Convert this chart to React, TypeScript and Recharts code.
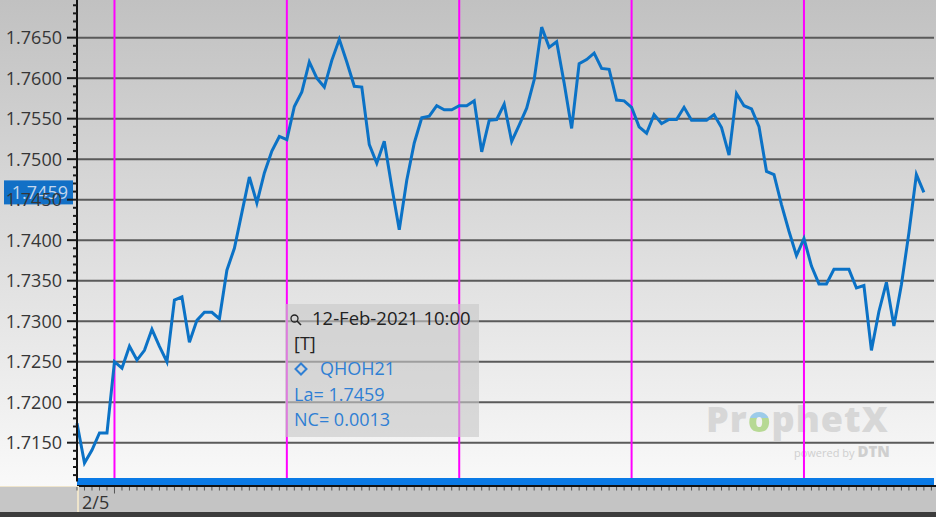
import React from "react"
import { LineChart, Line, XAxis, YAxis, ReferenceLine, Tooltip } from "recharts"

// QHOH21 intraday, one point per bar, 12-Feb-2021 10:00 is the last bar
const symbol = "QHOH21"
const lastTime = "12-Feb-2021 10:00"
const netChange = 0.0013
const firstDayLabel = "2/5"

const prices = [
  1.7174, 1.7125, 1.7141, 1.7162, 1.7162, 1.725, 1.7242, 1.7269, 1.7252, 1.7264,
  1.729, 1.7269, 1.725, 1.7326, 1.733, 1.7274, 1.7301, 1.7311, 1.7311, 1.7303,
  1.7363, 1.739, 1.7434, 1.7478, 1.7446, 1.7483, 1.751, 1.7528, 1.7524, 1.7565,
  1.7583, 1.762, 1.76, 1.7589, 1.7622, 1.7648, 1.762, 1.759, 1.7589, 1.7518,
  1.7495, 1.7522, 1.7466, 1.7413, 1.7474, 1.752, 1.7551, 1.7553, 1.7566, 1.7561,
  1.7561, 1.7566, 1.7566, 1.7572, 1.7509, 1.7548, 1.7549, 1.7568, 1.7522, 1.7542,
  1.7563, 1.7598, 1.7663, 1.7638, 1.7645, 1.7594, 1.7538, 1.7618, 1.7623, 1.7631,
  1.7612, 1.7611, 1.7573, 1.7572, 1.7564, 1.754, 1.7532, 1.7555, 1.7544, 1.7549,
  1.7549, 1.7564, 1.7548, 1.7548, 1.7548, 1.7555, 1.7539, 1.7505, 1.7581, 1.7566,
  1.7562, 1.754, 1.7485, 1.7481, 1.7444, 1.7411, 1.7381, 1.7402, 1.7368, 1.7346,
  1.7346, 1.7364, 1.7364, 1.7364, 1.7341, 1.7344, 1.7264, 1.7312, 1.7348, 1.7294,
  1.7345, 1.7409, 1.7481, 1.7459,
]

// labelled price levels (grid lines)
const priceLevels = [1.715, 1.72, 1.725, 1.73, 1.735, 1.74, 1.745, 1.75, 1.755, 1.76, 1.765]
// bar index where each new session starts
const sessionStarts = [5, 28, 51, 74, 97]

const lastPrice = prices[prices.length - 1]
const data = prices.map((price, t) => ({ t, price }))

const FONT = "'Open Sans', 'Noto Sans', sans-serif"
const BLUE_TEXT = "#2f7fd4"

// minor ticks every 0.001, labels only on the 0.005 levels
const yTicks = Array.from({ length: 59 }, (_, k) => (1711 + k) / 1000)
const xTicks = Array.from({ length: 115 }, (_, k) => k)

function PriceTick({ x, y, payload }: any) {
  const v: number = payload.value
  const major = priceLevels.some((p) => Math.abs(p - v) < 1e-7)
  return (
    <g>
      <line x1={x - (major ? 10 : 4)} x2={x} y1={y} y2={y} stroke="#1a1a1a" strokeWidth={2} />
      {major && (
        <text x={x - 15} y={y} dy="0.36em" textAnchor="end" fill="#363636" fontSize={18} fontFamily={FONT}>
          {v.toFixed(4)}
        </text>
      )}
    </g>
  )
}

function TimeTick({ x, y, payload }: any) {
  const i: number = payload.value
  const major = i === sessionStarts[0]
  return (
    <g>
      <line x1={x} x2={x} y1={y + 5.5} y2={y + (major ? 12 : 9)} stroke="#555" strokeWidth={1} />
      {i === 0 && (
        <text x={x + 5} y={y + 27} fill="#333" fontSize={18} fontFamily={FONT}>
          {firstDayLabel}
        </text>
      )}
    </g>
  )
}

function PriceTag({ viewBox }: any) {
  if (!viewBox) return null
  const { x, y } = viewBox
  return (
    <g>
      <rect x={x - 73} y={y - 12} width={69} height={24} fill="#1270c6" />
      <text x={x - 9} y={y} dy="0.36em" textAnchor="end" fill="#c3d6ec" fontSize={18} fontFamily={FONT}>
        {lastPrice.toFixed(4)}
      </text>
    </g>
  )
}

function InfoBox({ payload }: any) {
  const price: number = payload?.[0]?.value ?? lastPrice
  return (
    <div
      style={{
        width: 194,
        height: 133,
        background: "rgba(200,200,200,0.62)",
        fontFamily: FONT,
        fontSize: 18,
        lineHeight: "25.5px",
        padding: "1px 0 0 9px",
        boxSizing: "border-box",
        whiteSpace: "nowrap",
      }}
    >
      <div style={{ color: "#222", fontSize: 18.5 }}>
        <svg width={12} height={12} style={{ marginLeft: -4, marginRight: 10, verticalAlign: "-1px" }}>
          <circle cx={4.5} cy={4.5} r={3.5} fill="none" stroke="#222" strokeWidth={1.3} />
          <line x1={7} y1={7} x2={11} y2={11} stroke="#222" strokeWidth={1.6} />
        </svg>
        {lastTime}
      </div>
      <div style={{ color: "#222" }}>[T]</div>
      <div style={{ color: BLUE_TEXT }}>
        <svg width={14} height={14} style={{ marginRight: 12, verticalAlign: "-1px" }}>
          <path d="M7 1.5 L12.5 7 L7 12.5 L1.5 7 Z" fill="none" stroke={BLUE_TEXT} strokeWidth={2} />
        </svg>
        {symbol}
      </div>
      <div style={{ color: BLUE_TEXT }}>La= {price.toFixed(4)}</div>
      <div style={{ color: BLUE_TEXT }}>NC= {netChange.toFixed(4)}</div>
    </div>
  )
}

function Watermark() {
  return (
    <div style={{ position: "absolute", left: 706, top: 401, fontFamily: FONT }}>
      <div style={{ fontSize: 36, fontWeight: 800, lineHeight: 1, letterSpacing: 1, color: "#d7d7d7" }}>
        Pr
        <span
          style={{
            background: "linear-gradient(#9ccbe9 50%, #b7d994 50%)",
            WebkitBackgroundClip: "text",
            backgroundClip: "text",
            color: "transparent",
          }}
        >
          o
        </span>
        phetX
      </div>
      <div style={{ position: "absolute", left: 88, top: 42, lineHeight: 1, whiteSpace: "nowrap", color: "#cfcfcf" }}>
        <span style={{ fontSize: 11 }}>powered by </span>
        <span style={{ fontSize: 15, fontWeight: 800 }}>DTN</span>
      </div>
    </div>
  )
}

export default function App() {
  return (
    <div
      style={{
        position: "absolute",
        left: 0,
        top: 0,
        width: 936,
        height: 517,
        overflow: "hidden",
        background: "#3c3c3c",
        fontFamily: FONT,
      }}
    >
      <div style={{ position: "absolute", left: 0, top: 0, width: 936, height: 486, background: "linear-gradient(#c1c1c1, #f9f9f9)" }} />
      <div
        style={{
          position: "absolute",
          left: 77,
          top: 485,
          width: 859,
          height: 27,
          background: "#c4c4c4",
          borderTop: "2px solid #111",
          boxSizing: "border-box",
        }}
      />
      <div
        style={{
          position: "absolute",
          left: 0,
          top: 486,
          width: 79,
          height: 26,
          background: "#c6c6c6",
          borderTop: "1px solid #efe5cc",
          borderRight: "2px solid #efe5cc",
          boxSizing: "border-box",
        }}
      />
      <Watermark />
      <div style={{ position: "absolute", left: 0, top: 0 }}>
        <LineChart width={936} height={517} data={data} margin={{ top: 0, right: 2, left: 0, bottom: 5 }}>
          <XAxis
            dataKey="t"
            type="number"
            domain={[0, 114.35]}
            ticks={xTicks}
            interval={0}
            height={30.5}
            tickSize={0}
            tickMargin={0}
            tick={<TimeTick />}
            axisLine={{ stroke: "#0a7ae6", strokeWidth: 7 }}
            tickLine={false}
          />
          <YAxis
            type="number"
            domain={[1.71021, 1.76965]}
            ticks={yTicks}
            interval={0}
            width={77}
            tickSize={0}
            tickMargin={0}
            tick={<PriceTick />}
            axisLine={{ stroke: "#111", strokeWidth: 2 }}
            tickLine={false}
          />
          {priceLevels.map((p) => (
            <ReferenceLine key={p} y={p} stroke="#5a5a5a" strokeWidth={2} />
          ))}
          {sessionStarts.map((s) => (
            <ReferenceLine key={s} x={s} stroke="#ff00ff" strokeWidth={2} />
          ))}
          <Line
            type="linear"
            dataKey="price"
            stroke="#0b72c6"
            strokeWidth={3}
            dot={false}
            activeDot={false}
            isAnimationActive={false}
          />
          <ReferenceLine y={lastPrice} stroke="none" label={<PriceTag />} />
          <Tooltip
            active
            defaultIndex={prices.length - 1}
            position={{ x: 285, y: 304 }}
            cursor={false}
            isAnimationActive={false}
            content={<InfoBox />}
            wrapperStyle={{ outline: "none" }}
          />
        </LineChart>
      </div>
    </div>
  )
}
